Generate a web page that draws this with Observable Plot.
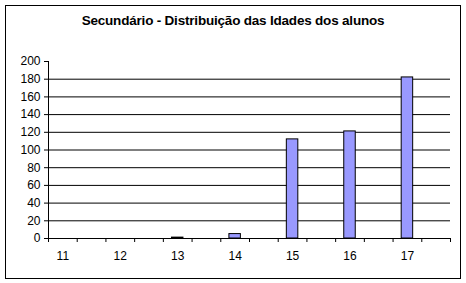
<!DOCTYPE html>
<html>
<head>
<meta charset="utf-8">
<script src="https://cdn.jsdelivr.net/npm/d3@7"></script>
<script src="https://cdn.jsdelivr.net/npm/@observablehq/plot@0.6"></script>
<style>
  html, body { margin: 0; padding: 0; background: #fff; }
  #wrap { position: relative; width: 466px; height: 283px; overflow: hidden; font-family: "Liberation Sans", Arial, sans-serif; }
  #frame { position: absolute; left: 5px; top: 5px; width: 454px; height: 272px; border: 1px solid #000; box-sizing: content-box; }
  #title { position: absolute; left: 0; width: 466px; top: 13px; text-align: center; font-size: 13.5px; font-weight: bold; color: #000; letter-spacing: -0.2px; }
  #chart { position: absolute; left: 0; top: 0; }
</style>
</head>
<body>
<div id="wrap">
  <div id="frame"></div>
  <div id="title">Secundário - Distribuição das Idades dos alunos</div>
  <div id="chart"></div>
</div>
<script>
const ages = [11, 12, 13, 14, 15, 16, 17];
const counts = [0, 0, 1, 5, 112, 121, 182];
const yTicks = [0, 20, 40, 60, 80, 100, 120, 140, 160, 180, 200];
const gridValues = [20, 40, 60, 80, 100, 120, 140, 160, 180];

const data = ages.map((a, i) => ({age: a, count: counts[i]})).filter(d => d.count > 0);
// category slot boundaries (each age occupies one of two half-slots)
const xMin = ages[0] - 0.25, xMax = ages[ages.length - 1] + 0.75;
const boundaries = d3.range(0, (xMax - xMin) / 0.5 + 1).map(k => xMin + 0.5 * k);

const chart = Plot.plot({
  width: 466,
  height: 283,
  marginLeft: 48,
  marginRight: 16,
  marginTop: 61,
  marginBottom: 45,
  style: {fontFamily: "'Liberation Sans', Arial, sans-serif", fontSize: "12px", background: "transparent", color: "#000"},
  x: {domain: [xMin, xMax]},
  y: {domain: [0, 200]},
  marks: [
    Plot.ruleY(gridValues, {stroke: "#000", strokeWidth: 1, strokeOpacity: 1}),
    Plot.rectY(data, {x1: d => d.age - 0.1, x2: d => d.age + 0.1, y1: 0, y2: "count", fill: "#9999FF", stroke: "#000", strokeWidth: 1}),
    Plot.ruleY([0], {stroke: "#000"}),
    Plot.ruleX([xMin], {y1: 0, y2: 200, stroke: "#000"}),
    Plot.axisY({ticks: yTicks, tickSize: 4, tickPadding: 4, label: null, stroke: "#000", strokeOpacity: 1, fill: "#000"}),
    Plot.axisX({ticks: boundaries, tickSize: 4, tickFormat: () => "", label: null, stroke: "#000", strokeOpacity: 1}),
    Plot.axisX({ticks: ages, tickSize: 0, tickPadding: 13, tickFormat: d => String(d), label: null, fill: "#000"})
  ]
});
document.getElementById("chart").appendChild(chart);
</script>
</body>
</html>
